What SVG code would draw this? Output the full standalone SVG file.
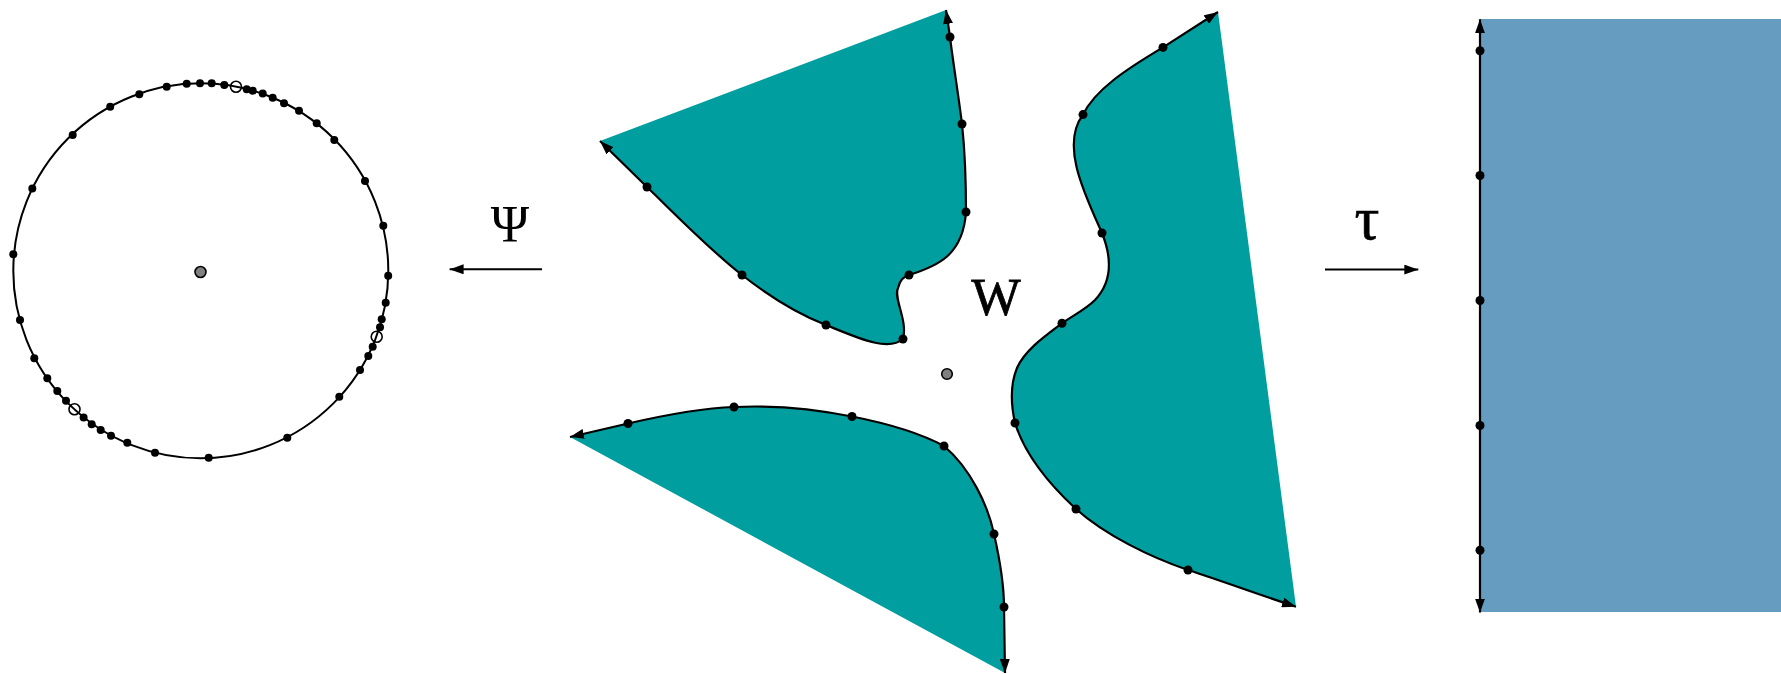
<svg xmlns="http://www.w3.org/2000/svg" width="1781" height="674" viewBox="0 0 1781 674">
<defs>
<style>
.bd{fill:none;stroke:#000;stroke-width:2}
.sh{fill:#009e9e;stroke:#000;stroke-width:2.2;marker-start:url(#ah);marker-end:url(#ah)}
.d{fill:#000}
.o{fill:none;stroke:#000;stroke-width:1.6}
.g{fill:#808080;stroke:#000;stroke-width:1.6}
.lbl{font-family:"Liberation Serif","Times New Roman",serif;font-size:52px;fill:#000;text-anchor:middle}
.ar{fill:none;stroke:#000;stroke-width:2;marker-end:url(#ah)}
</style>
<marker id="ah" viewBox="0 0 14 10" refX="14" refY="5" markerWidth="14" markerHeight="10" markerUnits="userSpaceOnUse" orient="auto-start-reverse"><path d="M0,0 L14,5 L0,10 Z" fill="#000"/></marker>
</defs>
<rect width="1781" height="674" fill="#fff"/>

<g id="disk">
<circle class="bd" cx="200.8" cy="270.8" r="187.5"/>
<circle class="g" cx="200.5" cy="272" r="5.5"/>
<g class="d">
<circle cx="166.7" cy="86.7" r="4"/><circle cx="186.7" cy="83.8" r="4"/><circle cx="200" cy="83.3" r="4"/><circle cx="211.7" cy="83.3" r="4"/><circle cx="224.3" cy="85" r="4"/>
<circle cx="246.7" cy="89.3" r="4"/><circle cx="252.7" cy="90.7" r="4"/><circle cx="262.7" cy="93.6" r="4"/><circle cx="272.7" cy="97.7" r="4"/><circle cx="284" cy="103.3" r="4"/>
<circle cx="299" cy="110.7" r="4"/><circle cx="316.7" cy="123.3" r="4"/><circle cx="334.3" cy="140" r="4"/><circle cx="365" cy="181" r="4"/><circle cx="383.3" cy="225.7" r="4"/>
<circle cx="388.2" cy="275.7" r="4"/><circle cx="385.7" cy="302.7" r="4"/><circle cx="381.7" cy="319.3" r="4"/><circle cx="380" cy="327.3" r="4"/><circle cx="372.7" cy="346.7" r="4"/>
<circle cx="368.3" cy="356" r="4"/><circle cx="360" cy="370" r="4"/><circle cx="339.3" cy="396.7" r="4"/><circle cx="287.3" cy="437.7" r="4"/><circle cx="208.7" cy="457.7" r="4"/>
<circle cx="155" cy="452.7" r="4"/><circle cx="127.3" cy="442.7" r="4"/><circle cx="111" cy="435.7" r="4"/><circle cx="100.7" cy="430" r="4"/><circle cx="91.7" cy="424.3" r="4"/>
<circle cx="83.6" cy="417.4" r="4"/><circle cx="66" cy="400.7" r="4"/><circle cx="57.3" cy="391" r="4"/><circle cx="47.3" cy="378.3" r="4"/><circle cx="34.3" cy="358.3" r="4"/>
<circle cx="20" cy="320" r="4"/><circle cx="13.3" cy="254.3" r="4"/><circle cx="32.3" cy="188.5" r="4"/><circle cx="72.7" cy="135" r="4"/><circle cx="110.2" cy="106.7" r="4"/>
<circle cx="139.3" cy="94.3" r="4"/>
</g>
<circle class="o" cx="236" cy="86.7" r="5.5"/>
<circle class="o" cx="376.7" cy="336.7" r="5.5"/>
<circle class="o" cx="74.5" cy="409.2" r="5.5"/>
</g>

<g id="domain-W">
<g id="piece-top">
<path class="sh" d="M600,141 L647,187 C680,219 710,250 742,275 C770,297 795,313 826,325 C858,338 888,352 903,339 C908,320 893,298 898,288 C900,280 903,277 909,275 C938,266 963,255 966,212 C966,180 965,152 962,124 C958,92 953,62 950,37 L946,10"/>
<g class="d"><circle cx="647" cy="187" r="4.5"/><circle cx="742" cy="275" r="4.5"/><circle cx="826" cy="325" r="4.5"/><circle cx="903" cy="339" r="4.5"/><circle cx="909" cy="275" r="4.5"/><circle cx="966" cy="212" r="4.5"/><circle cx="962" cy="124" r="4.5"/><circle cx="950" cy="37" r="4.5"/></g>
</g>
<g id="piece-bottom">
<path class="sh" d="M570,437 L628,423.5 C665,415 705,408 734,407 C775,405 815,409 852,416.5 C885,423 918,432 944,446 C970,468 988,505 994,534 C1001,565 1004,590 1004,607 L1005,673"/>
<g class="d"><circle cx="628" cy="423.5" r="4.5"/><circle cx="734" cy="407" r="4.5"/><circle cx="852" cy="416.5" r="4.5"/><circle cx="944" cy="446" r="4.5"/><circle cx="994" cy="534" r="4.5"/><circle cx="1004" cy="607" r="4.5"/></g>
</g>
<g id="piece-right">
<path class="sh" d="M1218,12 L1163,47.4 C1125,70 1095,90 1083,114.6 C1060,145 1085,195 1102,233 C1112,258 1112,282 1095,300 C1085,310 1072,316 1062,323.3 C1045,336 1025,350 1017,368 C1010,385 1011,405 1015,423 C1025,455 1050,485 1076,509 C1105,535 1150,557 1188,570 C1225,582 1260,595 1296,606.7"/>
<g class="d"><circle cx="1163" cy="47.4" r="4.5"/><circle cx="1083" cy="114.6" r="4.5"/><circle cx="1102" cy="233" r="4.5"/><circle cx="1062" cy="323.3" r="4.5"/><circle cx="1015" cy="423" r="4.5"/><circle cx="1076" cy="509" r="4.5"/><circle cx="1188" cy="570" r="4.5"/></g>
</g>
<circle class="g" cx="947" cy="374" r="5.3"/>
<text class="lbl" x="996" y="315" style="stroke:#000;stroke-width:0.8">W</text>
</g>

<g id="half-plane">
<rect x="1480" y="19" width="301" height="593" fill="#659cc0"/>
<path class="sh" style="fill:none" d="M1480,19.3 L1480,612.6"/>
<g class="d"><circle cx="1480" cy="50.7" r="4.5"/><circle cx="1480" cy="175.5" r="4.5"/><circle cx="1480" cy="300.5" r="4.5"/><circle cx="1480" cy="425.5" r="4.5"/><circle cx="1480" cy="550.3" r="4.5"/></g>
</g>

<g id="connectors">
<path class="ar" d="M542,269.3 L449.6,269.3"/>
<text class="lbl" x="510" y="242">Ψ</text>
<path class="ar" d="M1325,269.6 L1418.3,269.6"/>
<text class="lbl" x="1367" y="239" style="font-size:62px;stroke:#000;stroke-width:0.6">τ</text>
</g>
</svg>
